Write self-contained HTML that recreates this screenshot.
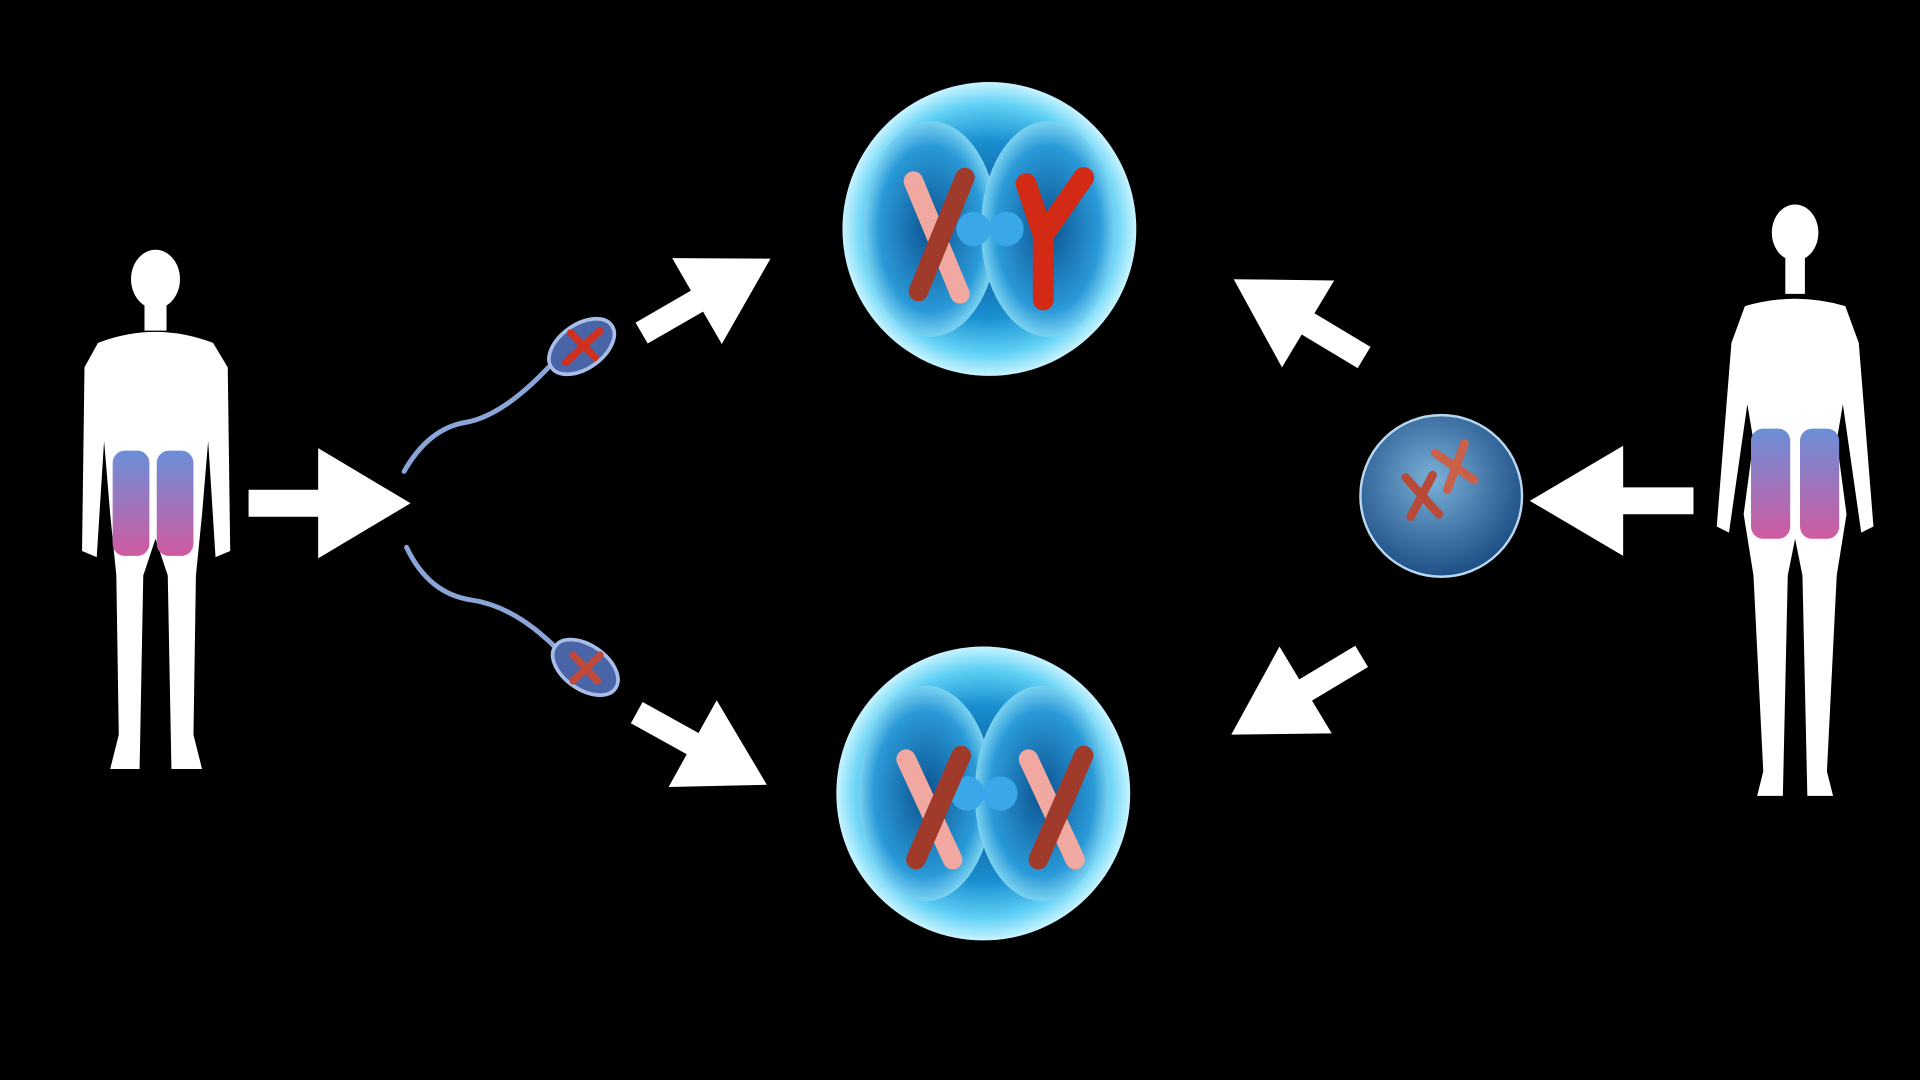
<!DOCTYPE html>
<html><head><meta charset="utf-8"><style>
html,body{margin:0;padding:0;background:#000;width:1920px;height:1080px;overflow:hidden}
svg{display:block}
</style></head><body>
<svg width="1920" height="1080" viewBox="0 0 1568 882" xmlns="http://www.w3.org/2000/svg">
<defs>
<radialGradient id="cell" cx="50%" cy="50%" r="50%">
<stop offset="0" stop-color="#0a4a8a"/><stop offset="0.6" stop-color="#1a8fd0"/><stop offset="0.85" stop-color="#5fd0f5"/><stop offset="1" stop-color="#c8f4ff"/>
</radialGradient>
<radialGradient id="half" cx="50%" cy="50%" r="55%">
<stop offset="0" stop-color="#0d5290"/><stop offset="0.7" stop-color="#2a9ad8"/><stop offset="1" stop-color="#a0ecfc"/>
</radialGradient>
<radialGradient id="egg" cx="45%" cy="40%" r="60%">
<stop offset="0" stop-color="#7ab0d8"/><stop offset="1" stop-color="#1e4f86"/>
</radialGradient>
<linearGradient id="chr" x1="0" y1="0" x2="0" y2="1">
<stop offset="0" stop-color="#6a8fd8"/><stop offset="1" stop-color="#d05aa0"/>
</linearGradient>
<g id="arrow"><polygon points="0,-11 58,-11 58,-45 135,0 58,45 58,11 0,11" fill="#fff"/></g>
</defs>
<rect width="1568" height="882" fill="#000"/>

<g fill="#fff">
<ellipse cx="127" cy="228" rx="20" ry="24"/>
<rect x="118" y="248" width="18" height="22"/>
<path d="M80,280 Q127,262 174,280 L186,300 L188,450 L176,455 L170,360 L165,420 L160,470 L158,600 L165,628 L140,628 L137,470 L127,440 L117,470 L114,628 L90,628 L97,600 L95,470 L90,420 L85,360 L79,455 L67,450 L69,300 Z"/>
</g>
<rect x="92" y="368" width="30" height="86" rx="10" fill="url(#chr)"/>
<rect x="128" y="368" width="30" height="86" rx="10" fill="url(#chr)"/>

<g fill="#fff">
<ellipse cx="1466" cy="190" rx="19" ry="23"/>
<rect x="1458" y="210" width="16" height="30"/>
<path d="M1425,250 Q1466,238 1507,250 L1518,280 L1530,430 L1520,435 L1505,330 L1500,360 L1508,420 L1500,470 L1492,630 L1497,650 L1476,650 L1472,470 L1466,440 L1460,470 L1456,650 L1435,650 L1440,630 L1432,470 L1424,420 L1432,360 L1427,330 L1412,435 L1402,430 L1414,280 Z"/>
</g>
<rect x="1430" y="350" width="32" height="90" rx="10" fill="url(#chr)"/>
<rect x="1470" y="350" width="32" height="90" rx="10" fill="url(#chr)"/>

<use href="#arrow" transform="translate(203,411) scale(0.98,1)"/>
<use href="#arrow" transform="translate(1383,409) rotate(180) scale(0.99,1)"/>
<use href="#arrow" transform="translate(524,272) rotate(-30) scale(0.9)"/>
<use href="#arrow" transform="translate(520,582) rotate(29) scale(0.9)"/>
<use href="#arrow" transform="translate(1114,292) rotate(211) scale(0.92)"/>
<use href="#arrow" transform="translate(1112,536) rotate(149) scale(0.92)"/>

<g fill="none" stroke="#8aa6d8" stroke-width="4" stroke-linecap="round">
<path d="M448,300 Q410,340 380,345 Q350,350 330,385"/>
<path d="M455,530 Q420,495 385,490 Q350,485 332,447"/>
</g>
<ellipse cx="475" cy="283" rx="30" ry="18" transform="rotate(-35 475 283)" fill="#4a64a8" stroke="#a8bde8" stroke-width="3"/>
<ellipse cx="478" cy="545" rx="30" ry="18" transform="rotate(35 478 545)" fill="#4a64a8" stroke="#a8bde8" stroke-width="3"/>
<path d="M466,272 L486,292 M490,270 L462,296" stroke="#d0301e" stroke-width="6" stroke-linecap="round"/>
<path d="M468,535 L488,556 M490,535 L468,556" stroke="#c04a3a" stroke-width="6" stroke-linecap="round"/>

<circle cx="1177" cy="405" r="66" fill="url(#egg)" stroke="#b8d8f0" stroke-width="2"/>
<path d="M1148,390 L1175,420 M1170,388 L1152,422" stroke="#b84a3a" stroke-width="7" stroke-linecap="round"/>
<path d="M1172,370 L1204,392 M1196,362 L1182,400" stroke="#c8604a" stroke-width="7" stroke-linecap="round"/>

<g>
<circle cx="808" cy="187" r="120" fill="url(#cell)"/>
<ellipse cx="760" cy="187" rx="55" ry="88" fill="url(#half)"/>
<ellipse cx="856" cy="187" rx="55" ry="88" fill="url(#half)"/>
<circle cx="795" cy="187" r="14" fill="#3aa8e8"/><circle cx="822" cy="187" r="14" fill="#3aa8e8"/>
<path d="M746,148 L784,240" stroke="#f0a8a0" stroke-width="16" stroke-linecap="round"/>
<path d="M788,145 L750,238" stroke="#a03a2a" stroke-width="16" stroke-linecap="round"/>
<path d="M838,150 L852,192 L885,145 M852,192 L852,245" fill="none" stroke="#d22a14" stroke-width="17" stroke-linecap="round" stroke-linejoin="round"/>
</g>

<g>
<circle cx="803" cy="648" r="120" fill="url(#cell)"/>
<ellipse cx="756" cy="648" rx="55" ry="88" fill="url(#half)"/>
<ellipse cx="851" cy="648" rx="55" ry="88" fill="url(#half)"/>
<circle cx="790" cy="648" r="14" fill="#3aa8e8"/><circle cx="817" cy="648" r="14" fill="#3aa8e8"/>
<path d="M740,620 L778,702" stroke="#f0a8a0" stroke-width="16" stroke-linecap="round"/>
<path d="M785,617 L748,702" stroke="#a03a2a" stroke-width="16" stroke-linecap="round"/>
<path d="M840,620 L878,702" stroke="#f0a8a0" stroke-width="16" stroke-linecap="round"/>
<path d="M885,617 L848,702" stroke="#a03a2a" stroke-width="16" stroke-linecap="round"/>
</g>
</svg>
</body></html>
